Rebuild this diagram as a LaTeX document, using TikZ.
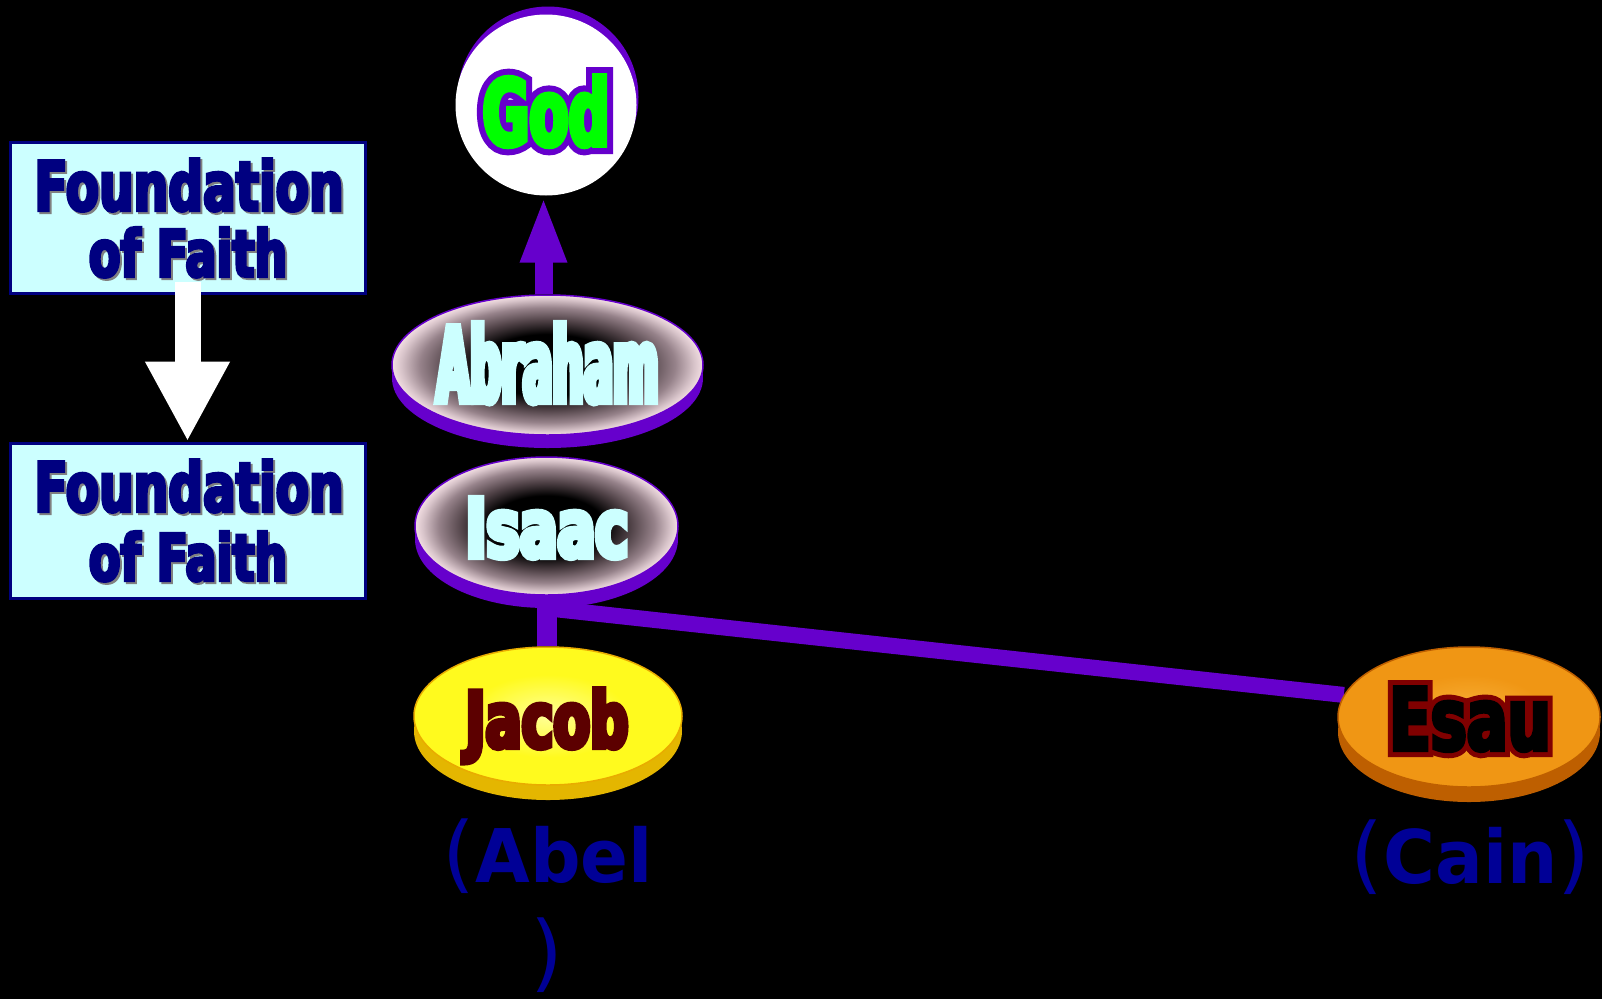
\documentclass[tikz,border=0pt]{standalone}
\usepackage{fontspec}
\setmainfont{DejaVu Sans}
\newfontfamily\lblfont{DejaVu Sans Bold}[FakeStretch=0.955]
\newfontfamily\parenfont{DejaVu Sans}
\usepackage{graphicx}
\usetikzlibrary{shapes.geometric,arrows.meta}
\pgfdeclarelayer{bg}
\pgfsetlayers{bg,main}
\definecolor{purp}{RGB}{102,0,204}
\definecolor{navyc}{RGB}{0,0,128}
\definecolor{boxfill}{RGB}{204,255,255}
\definecolor{txtcyan}{RGB}{204,255,255}
\definecolor{pinkedge}{RGB}{242,222,226}
\definecolor{pinkmid}{RGB}{215,195,201}
\definecolor{mauve}{RGB}{150,130,138}
\definecolor{mauvedark}{RGB}{80,66,71}
\definecolor{jacobyel}{RGB}{255,250,30}
\definecolor{jacobin}{RGB}{255,255,150}
\definecolor{jacobrim}{RGB}{228,182,0}
\definecolor{jacobtxt}{RGB}{92,0,0}
\definecolor{esauor}{RGB}{240,150,20}
\definecolor{esauin}{RGB}{250,180,60}
\definecolor{esaurim}{RGB}{190,95,0}
\definecolor{esauout}{RGB}{128,0,0}
\definecolor{godgreen}{RGB}{0,255,0}
\definecolor{labelblue}{RGB}{0,0,150}
% the path's bounding box maps to the inner 50bp square, so the border is at 25bp
\pgfdeclareradialshading{grayface}{\pgfpoint{0bp}{0bp}}{color(0bp)=(black); color(11bp)=(black); color(16bp)=(mauvedark); color(20.5bp)=(mauve); color(23.5bp)=(pinkmid); color(25bp)=(pinkedge); color(50bp)=(pinkedge)}
\pgfdeclareradialshading{yellowface}{\pgfpoint{0bp}{0bp}}{color(0bp)=(jacobin); color(15bp)=(jacobyel); color(50bp)=(jacobyel)}
\pgfdeclareradialshading{orangeface}{\pgfpoint{0bp}{0bp}}{color(0bp)=(esauin); color(15bp)=(esauor); color(50bp)=(esauor)}
% #1 colour, #2 size, #3 horizontal stretch, #4 embolden, #5 text
\newcommand{\ftxt}[5]{{\fontspec{DejaVu Sans Bold}[FakeStretch=#3,FakeBold=#4]\fontsize{#2pt}{#2pt}\selectfont\color{#1}#5}}
\newcommand{\lparen}{{\parenfont\fontsize{84}{90}\selectfont(}}
\newcommand{\rparen}{{\parenfont\fontsize{84}{90}\selectfont)}}
\begin{document}
\begin{tikzpicture}[x=1pt,y=-1pt,
  faithbox/.style={draw=navyc,line width=3,fill=boxfill,minimum width=355,inner sep=0},
  ttxt/.style={inner sep=0,anchor=base},
  rimshape/.style={ellipse,inner sep=0},
  conn/.style={purp,line width=18},
  captxt/.style={inner sep=0,anchor=base,text=labelblue,font=\lblfont\fontsize{74}{80}\selectfont}]
\useasboundingbox (0,0) rectangle (1602,999);
% ---------- boxes
\node[faithbox,minimum height=151] (fb1) at (187.5,217.5) {};
\node[faithbox,minimum height=155] (fb2) at (187.5,520.5) {};
\draw[white,line width=26,-{Triangle[width=79pt,length=80pt]}] ([yshift=13]fb1.south) -- (fb2.north);
\node[ttxt] (f1s) at (191,212.5) {\ftxt{gray}{68.4}{0.71}{4.4}{Foundation}};
\node[ttxt] (f1) at (189,210.5) {\ftxt{navyc}{68.4}{0.71}{4.4}{Foundation}};
\node[ttxt] (o1s) at (190,278.5) {\ftxt{gray}{64.5}{0.715}{4.65}{of Faith}};
\node[ttxt] (o1) at (188,276.5) {\ftxt{navyc}{64.5}{0.715}{4.65}{of Faith}};
\node[ttxt] (f2s) at (191,513.5) {\ftxt{gray}{68.4}{0.71}{4.4}{Foundation}};
\node[ttxt] (f2) at (189,511.5) {\ftxt{navyc}{68.4}{0.71}{4.4}{Foundation}};
\node[ttxt] (o2s) at (190,582.5) {\ftxt{gray}{64.5}{0.715}{4.65}{of Faith}};
\node[ttxt] (o2) at (188,580.5) {\ftxt{navyc}{64.5}{0.715}{4.65}{of Faith}};
% ---------- God
\node[circle,inner sep=0,minimum size=181,fill=purp] (godrim) at (548,97) {};
\node[circle,inner sep=0,minimum size=181,fill=white] (god) at (546,105) {};
\node[ttxt] (godout) at (546,145.5) {\ftxt{purp}{92}{0.62}{18.5}{God}};
\node[ttxt] (godtxt) at (546,145.5) {\ftxt{godgreen}{92}{0.62}{5.4}{God}};
% ---------- Abraham
\node[rimshape,fill=purp,minimum width=311,minimum height=140] (abrahamrim) at (547.5,378) {};
\node[rimshape,shade,shading=grayface,draw=purp,line width=1.5,minimum width=311,minimum height=140] (abraham) at (547.5,365) {};
\node[ttxt] (abrtxt) at (547.5,402) {\ftxt{txtcyan}{104}{0.42}{5.8}{Abraham}};
% ---------- Isaac
\node[rimshape,fill=purp,minimum width=263,minimum height=138] (isaacrim) at (546.5,539) {};
\node[rimshape,shade,shading=grayface,draw=purp,line width=1.5,minimum width=263,minimum height=138] (isaac) at (546.5,526) {};
\node[ttxt] (isaactxt) at (547,557) {\ftxt{txtcyan}{81}{0.69}{7.4}{Isaac}};
% ---------- Jacob
\node[rimshape,fill=jacobrim,minimum width=268,minimum height=138] (jacobrimn) at (548,731) {};
\node[rimshape,shade,shading=yellowface,draw=jacobrim!80!orange,line width=1.5,minimum width=268,minimum height=138] (jacob) at (548,716) {};
\node[ttxt] (jacobtxtn) at (547,747.5) {\ftxt{jacobtxt}{77.6}{0.69}{6.4}{Jacob}};
% ---------- Esau
\node[rimshape,fill=esaurim,minimum width=262,minimum height=140] (esaurimn) at (1469,732) {};
\node[rimshape,shade,shading=orangeface,draw=esaurim,line width=1.5,minimum width=262,minimum height=140] (esau) at (1469,717) {};
\node[ttxt] (esauoutn) at (1470,750) {\ftxt{esauout}{86.4}{0.70}{16.2}{Esau}};
\node[ttxt] (esautxt) at (1470,750) {\ftxt{black}{86.4}{0.70}{4.6}{Esau}};
% ---------- labels
\node[captxt] (abel) at (548,882) {\lparen Abel};
\node[captxt] (abelclose) at (546.5,981) {\rparen};
\node[captxt] (cain) at (1470.5,883) {\lparen Cain\rparen};
% ---------- background and connectors
\begin{pgfonlayer}{bg}
\fill[black] (0,0) rectangle (1602,999);
\draw[conn,-{Triangle[width=42pt,length=67pt]}] ([xshift=-4]abraham.north) -- ([xshift=-4]abraham.north |- god.south);
\draw[conn,line width=20] (isaacrim.south) -- (isaacrim.south |- jacob.north);
\draw[conn,line width=16] (isaacrim.south) -- (esau.170);
\end{pgfonlayer}
\end{tikzpicture}
\end{document}
